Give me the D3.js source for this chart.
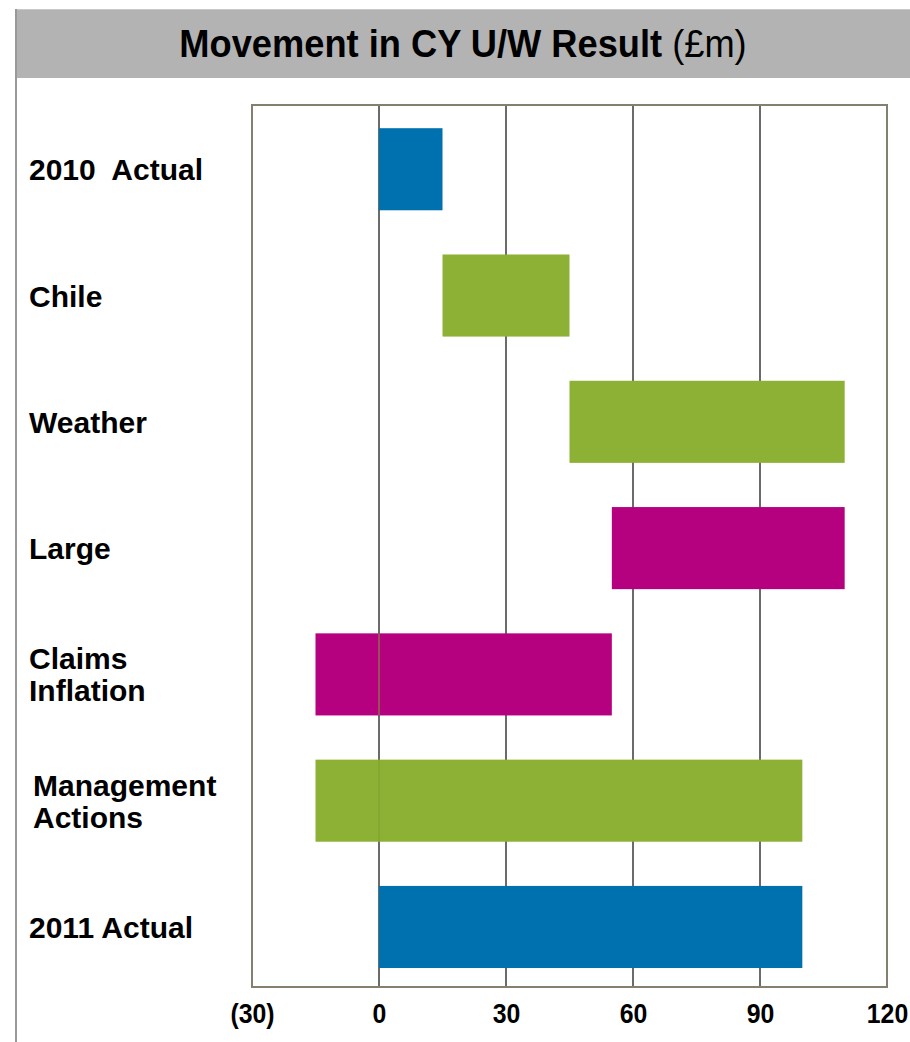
<!DOCTYPE html>
<html>
<head>
<meta charset="utf-8">
<script src="https://cdn.jsdelivr.net/npm/d3@7"></script>
<style>
  html, body { margin: 0; padding: 0; background: #fff; }
  svg { display: block; }
  text { white-space: pre; }
</style>
</head>
<body>
<svg id="chart" width="910" height="1042"></svg>
<script>
// Waterfall steps: each bar runs from its start to its end value (£m)
const categories = ["2010 Actual", "Chile", "Weather", "Large", "Claims Inflation", "Management Actions", "2011 Actual"];
const labelLines = [["2010  Actual"], ["Chile"], ["Weather"], ["Large"], ["Claims", "Inflation"], ["Management", "Actions"], ["2011 Actual"]];
const startValues = [0, 15, 45, 110, 55, -15, 0];
const endValues = [15, 45, 110, 55, -15, 100, 100];
const barKinds = ["total", "up", "up", "down", "down", "up", "total"];
const tickValues = [-30, 0, 30, 60, 90, 120];
const tickLabels = ["(30)", "0", "30", "60", "90", "120"];

const colors = { total: "#0071AF", up: "#8CB135", down: "#B5007F" };

const svg = d3.select("#chart");
const W = 910, H = 1042;
const plot = { left: 252, right: 887, top: 105, bottom: 987 };
const font = "'Liberation Sans', Arial, sans-serif";

// Header band with title
svg.append("rect")
  .attr("x", 16).attr("y", 9).attr("width", W - 16).attr("height", 69)
  .attr("fill", "#b3b3b3");
svg.append("line")
  .attr("x1", 16).attr("x2", W).attr("y1", 9.5).attr("y2", 9.5)
  .attr("stroke", "#c8c8c8").attr("stroke-width", 1);
svg.append("line")
  .attr("x1", 16).attr("x2", 16).attr("y1", 9).attr("y2", H)
  .attr("stroke", "#999").attr("stroke-width", 2);

const title = svg.append("text")
  .attr("transform", "translate(463,57) scale(0.93,1)")
  .attr("text-anchor", "middle")
  .attr("font-family", font)
  .attr("font-size", 39)
  .attr("fill", "#000");
title.append("tspan").attr("font-weight", "bold").text("Movement in CY U/W Result");
title.append("tspan").attr("font-weight", "normal").text(" (£m)");

// Scales
const x = d3.scaleLinear().domain([-30, 120]).range([plot.left, plot.right]);
const y = d3.scaleBand().domain(categories).range([plot.top, plot.bottom])
  .paddingInner(0.35).paddingOuter(0.167).align(0.55);

// Vertical gridlines
svg.append("g")
  .selectAll("line")
  .data(tickValues.filter(v => v > -30 && v < 120))
  .join("line")
  .attr("x1", d => x(d)).attr("x2", d => x(d))
  .attr("y1", plot.top).attr("y2", plot.bottom)
  .attr("stroke", "#6b6b6b").attr("stroke-width", 2);

// Bars; a bar crossing zero is split into its negative and positive parts
const segments = [];
categories.forEach((c, i) => {
  const lo = Math.min(startValues[i], endValues[i]);
  const hi = Math.max(startValues[i], endValues[i]);
  if (lo < 0 && hi > 0) {
    segments.push({ c, lo, hi: 0, kind: barKinds[i], split: false });
    segments.push({ c, lo: 0, hi, kind: barKinds[i], split: true });
  } else {
    segments.push({ c, lo, hi, kind: barKinds[i], split: false });
  }
});

svg.append("g")
  .selectAll("rect")
  .data(segments)
  .join("rect")
  .attr("x", d => x(d.lo))
  .attr("width", d => x(d.hi) - x(d.lo))
  .attr("y", d => y(d.c))
  .attr("height", y.bandwidth())
  .attr("fill", d => colors[d.kind]);

// Thin seam where split bars meet
svg.append("g")
  .selectAll("line")
  .data(segments.filter(d => d.split))
  .join("line")
  .attr("x1", d => x(d.lo)).attr("x2", d => x(d.lo))
  .attr("y1", d => y(d.c)).attr("y2", d => y(d.c) + y.bandwidth())
  .attr("stroke", "#7d9e30").attr("stroke-width", 1);

// Plot frame
svg.append("rect")
  .attr("x", plot.left).attr("y", plot.top)
  .attr("width", plot.right - plot.left).attr("height", plot.bottom - plot.top)
  .attr("fill", "none").attr("stroke", "#857f70").attr("stroke-width", 2);

// X axis labels
const xAxis = d3.axisBottom(x)
  .tickValues(tickValues)
  .tickFormat((d, i) => tickLabels[i])
  .tickSize(0).tickPadding(0);
const gx = svg.append("g").attr("transform", `translate(0, ${plot.bottom})`).call(xAxis);
gx.select(".domain").remove();
gx.selectAll("text")
  .attr("y", 0).attr("dy", 0)
  .attr("transform", "translate(0,36) scale(0.92,1)")
  .attr("font-family", font)
  .attr("font-weight", "bold").attr("font-size", 27).attr("fill", "#000");

// Category labels
const labels = svg.append("g")
  .selectAll("text")
  .data(categories)
  .join("text")
  .attr("font-family", font)
  .attr("font-weight", "bold").attr("font-size", 30).attr("fill", "#000");
labels.each(function (d, i) {
  const lines = labelLines[i];
  const lh = 32;
  const cy = y(d) + y.bandwidth() / 2;
  const first = cy - (lines.length - 1) * lh / 2 + 11;
  const lx = i === 5 ? 33 : 29;
  d3.select(this).selectAll("tspan")
    .data(lines)
    .join("tspan")
    .attr("x", lx)
    .attr("y", (l, j) => first + j * lh)
    .text(l => l);
});
</script>
</body>
</html>
